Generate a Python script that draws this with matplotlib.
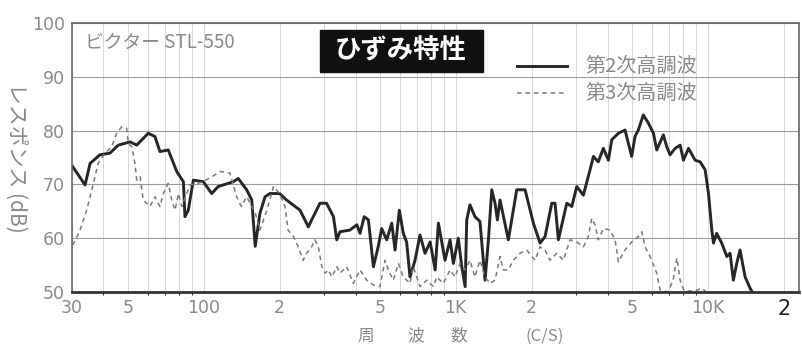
import matplotlib
matplotlib.use('Agg')
import matplotlib.pyplot as plt
from matplotlib.patches import Rectangle
from matplotlib.ticker import FixedLocator, NullFormatter

plt.rcParams['font.family'] = ['Noto Sans CJK JP', 'DejaVu Sans']

# 2nd harmonic (solid) - frequency in Hz, level in dB
f2 = [30.2, 33.8, 35.4, 38.7, 42.4, 45.8, 51.0, 54.2, 60.2, 64.0,
      67.0, 72.3, 78.1, 83.0, 84.2, 86.8, 90.9, 99.6, 107.5, 114,
      131, 137, 148, 155, 160, 167, 175, 183, 200, 213,
      241, 260, 268, 289, 307, 327, 337, 347, 380, 405,
      417, 433, 450, 471, 492, 508, 532, 557, 574, 597,
      619, 638, 658, 689, 721, 755, 791, 828, 853, 906,
      949, 978, 1023, 1056, 1089, 1105, 1138, 1191, 1247, 1306,
      1347, 1389, 1431, 1462, 1498, 1616, 1745, 1883, 2031, 2159,
      2260, 2403, 2476, 2553, 2756, 2886, 3019, 3207, 3409, 3516,
      3676, 3849, 4031, 4158, 4416, 4693, 4988, 5141, 5298, 5547,
      5808, 6083, 6270, 6661, 6871, 7083, 7416, 7765, 8004, 8380,
      8902, 9320, 9757, 10060, 10370, 10530, 10840, 11350, 11890, 12250,
      12630, 13020, 13420, 14060, 14710, 15400]
db2 = [73.3, 69.9, 73.9, 75.5, 75.8, 77.3, 77.9, 77.3, 79.5, 78.9,
       76.1, 76.4, 72.4, 70.5, 64.0, 65.2, 70.8, 70.5, 68.3, 69.6,
       70.5, 71.1, 69.0, 67.1, 58.5, 64.6, 67.7, 68.3, 68.3, 67.1,
       65.2, 62.1, 63.4, 66.5, 66.5, 64.0, 59.7, 61.2, 61.5, 62.5,
       60.9, 64.0, 63.4, 54.7, 58.4, 61.8, 59.7, 62.8, 57.8, 65.2,
       60.9, 59.3, 52.8, 55.9, 60.6, 57.2, 59.3, 54.1, 62.8, 55.9,
       59.7, 55.3, 60.0, 54.7, 51.0, 63.4, 66.2, 64.0, 63.1, 52.2,
       59.7, 69.0, 66.5, 63.4, 67.1, 59.7, 69.0, 69.0, 62.8, 59.1,
       60.3, 66.5, 66.5, 59.7, 66.5, 65.9, 69.6, 68.0, 72.7, 75.2,
       74.2, 76.7, 74.5, 78.3, 79.5, 80.1, 75.2, 78.9, 80.1, 82.9,
       81.4, 79.5, 76.4, 79.2, 77.0, 75.5, 76.7, 77.3, 74.5, 76.7,
       74.5, 74.2, 72.7, 68.3, 61.5, 59.1, 60.9, 59.1, 56.6, 57.2,
       52.2, 55.3, 57.8, 52.8, 50.7, 49.1]

# 3rd harmonic (dashed)
f3 = [30.2, 32.3, 34.3, 36.5, 38.1, 40.6, 43.1, 45.1, 47.2, 49.4,
      50.2, 51.8, 53.3, 54.2, 55.9, 57.5, 61.2, 64.0, 67.0, 69.1,
      72.3, 74.6, 76.9, 79.3, 81.8, 88.2, 96.6, 106, 116, 127,
      135, 141, 148, 155, 160, 167, 178, 189, 200, 210,
      216, 227, 237, 248, 256, 268, 276, 285, 294, 303,
      312, 322, 337, 347, 369, 392, 417, 443, 471, 500,
      524, 540, 565, 592, 619, 658, 678, 721, 767, 815,
      840, 892, 949, 993, 1039, 1089, 1138, 1191, 1247, 1306,
      1368, 1431, 1498, 1543, 1616, 1692, 1798, 1911, 2062, 2159,
      2260, 2365, 2514, 2673, 2840, 3019, 3207, 3357, 3462, 3568,
      3676, 3849, 4095, 4285, 4416, 4693, 4988, 5298, 5469, 5635,
      5900, 6270, 6463, 6950, 7280, 7536, 7765, 8050, 8902, 9466,
      9870]
db3 = [58.7, 61.5, 65.2, 70.2, 73.9, 75.8, 77.0, 79.5, 80.7, 80.4,
       77.6, 77.0, 73.9, 70.8, 71.4, 67.1, 65.9, 67.7, 65.9, 68.3,
       70.2, 67.1, 65.2, 68.3, 65.9, 69.9, 70.3, 71.2, 72.4, 72.1,
       67.7, 65.9, 67.7, 65.9, 64.7, 61.5, 65.2, 69.6, 68.3, 65.9,
       61.5, 60.3, 58.4, 55.9, 57.2, 58.4, 59.7, 58.4, 54.7, 53.5,
       54.1, 52.8, 54.7, 53.5, 54.7, 51.6, 54.1, 52.2, 51.3, 51.0,
       55.9, 54.1, 52.2, 55.3, 52.8, 51.6, 54.7, 51.0, 52.2, 51.0,
       52.8, 51.6, 54.1, 52.8, 55.3, 54.1, 55.9, 52.8, 55.9, 52.8,
       51.6, 52.2, 56.6, 54.1, 54.1, 55.9, 57.2, 57.8, 55.9, 58.4,
       57.8, 55.9, 57.2, 55.9, 59.7, 59.3, 58.4, 60.3, 63.7, 62.5,
       59.7, 61.8, 61.5, 59.7, 55.6, 57.8, 59.3, 60.3, 61.2, 58.4,
       56.6, 53.5, 50.4, 50.0, 52.2, 56.3, 52.2, 50.2, 50.2, 50.7,
       50.0]

xticks = [30, 50, 100, 200, 500, 1000, 2000, 5000, 10000, 20000]
xlabels = ['30', '5', '100', '2', '5', '1K', '2', '5', '10K', '2']
yticks = [50, 60, 70, 80, 90, 100]

W, H = 803, 356
fig = plt.figure(figsize=(W / 100, H / 100), dpi=100)
ax = fig.add_axes([72 / W, 1 - 292 / H, (799 - 72) / W, (292 - 23) / H])

ax.plot(f2, db2, color='#262626', lw=2.1, solid_joinstyle='round')
ax.plot(f3, db3, color='#7a7a7a', lw=1.1, dashes=(3, 2.5))

ax.set_xscale('log')
ax.set_xlim(30, 23000)
ax.set_ylim(50, 100)

minor = [m * d for d in (10, 100, 1000, 10000) for m in range(2, 10)]
ax.xaxis.set_minor_locator(FixedLocator([v for v in minor if 30 < v < 23000]))
ax.xaxis.set_minor_formatter(NullFormatter())
ax.set_xticks(xticks)
ax.set_xticklabels(xlabels)
ax.set_yticks(yticks)
ax.tick_params(length=0, labelsize=12.5, labelcolor='#8a8a8a', pad=5)
for lab in ax.get_xticklabels() + ax.get_yticklabels():
    lab.set_fontfamily('DejaVu Sans')
ax.get_xticklabels()[-1].set_color('#222222')
ax.get_xticklabels()[-1].set_fontsize(15)

ax.grid(axis='y', color='#9a9a9a', lw=0.8)
ax.grid(axis='x', which='both', color='#d8d8d8', lw=0.7)
for s in ('left', 'top', 'right'):
    ax.spines[s].set_color('#666666')
    ax.spines[s].set_linewidth(1.2)
ax.spines['bottom'].set_color('#333333')
ax.spines['bottom'].set_linewidth(2)

# texts inside the chart
fig.text(85 / W, 1 - 42 / H, 'ビクター STL-550', fontsize=13.5, color='#8a8a8a',
         va='center', ha='left')
fig.add_artist(Rectangle((320 / W, 1 - 72 / H), 163 / W, 42 / H,
                         transform=fig.transFigure, color='#111111'))
fig.text(401 / W, 1 - 51 / H, 'ひずみ特性', fontsize=19, color='white',
         fontweight='bold', ha='center', va='center')

# legend drawn by hand
fig.add_artist(plt.Line2D([517 / W, 567 / W], [1 - 66 / H, 1 - 66 / H],
                          color='#262626', lw=2.1))
fig.add_artist(plt.Line2D([517 / W, 567 / W], [1 - 93 / H, 1 - 93 / H],
                          color='#7a7a7a', lw=1.1, dashes=(3, 2.5)))
fig.text(585 / W, 1 - 66 / H, '第2次高調波', fontsize=14.5, color='#8a8a8a',
         va='center')
fig.text(585 / W, 1 - 93 / H, '第3次高調波', fontsize=14.5, color='#8a8a8a',
         va='center')

# axis titles
fig.text(15 / W, 1 - 158 / H, 'レスポンス (dB)', fontsize=15, color='#8a8a8a',
         ha='center', va='center', rotation=270)
for txt, x in [('周', 366), ('波', 416), ('数', 459), ('(C/S)', 545)]:
    fig.text(x / W, 1 - 336 / H, txt, fontsize=12, color='#8a8a8a',
             ha='center', va='center')

fig.savefig('out.png', dpi=100, facecolor='white')
